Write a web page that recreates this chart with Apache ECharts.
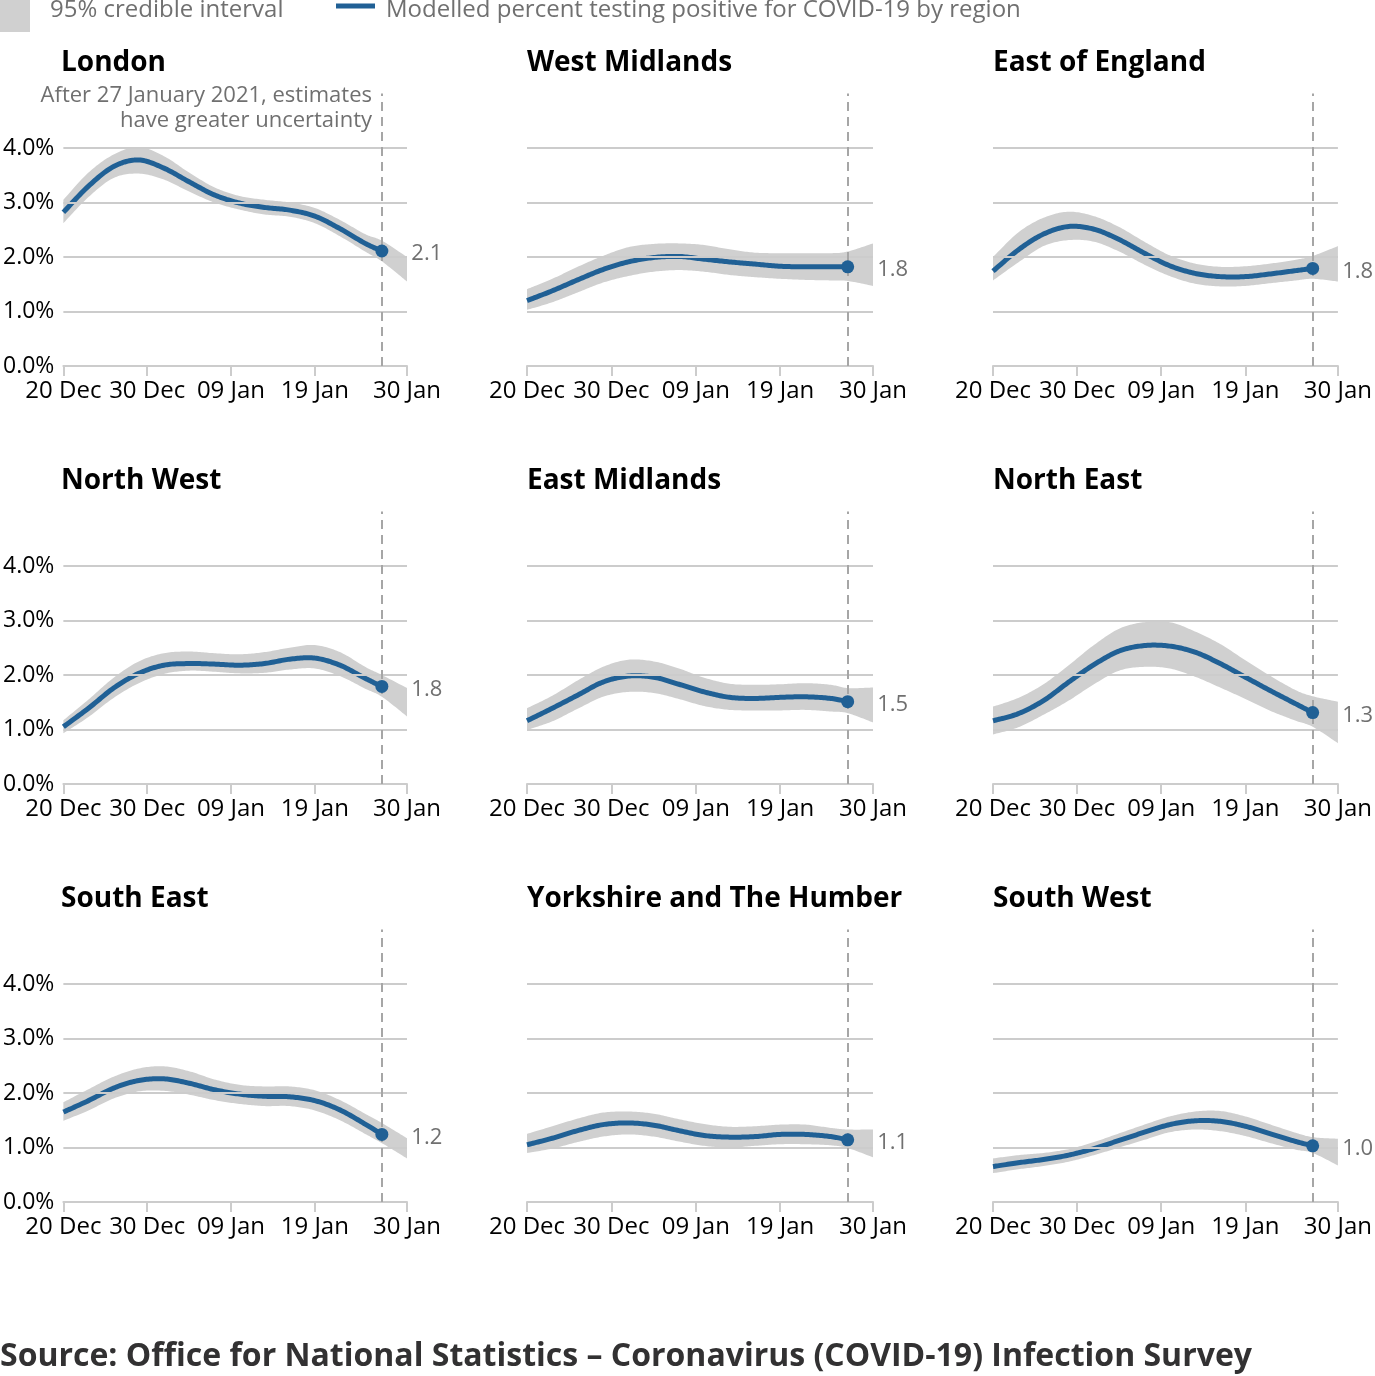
<!DOCTYPE html>
<html><head><meta charset="utf-8">
<script src="https://cdn.jsdelivr.net/npm/echarts@6/dist/echarts.min.js"></script>
<style>html,body{margin:0;padding:0;background:#fff}#chart{width:1375px;height:1376px}</style>
</head><body><div id="chart"></div>
<script>
// ---- data ----
const days = [0,3,6,9,12,15,18,21,24,27,30,33,36,38,41]; // days after 20 Dec 2020
const xTickDays = [0,10,20,30,41];
const xTickLabels = ['20 Dec','30 Dec','09 Jan','19 Jan','30 Jan'];
const yTicks = [0,1,2,3,4];
const cutoffDay = 38; // 27 January 2021
const regions = ['London','West Midlands','East of England','North West','East Midlands','North East','South East','Yorkshire and The Humber','South West'];

const londonMean  = [2.82,3.30,3.66,3.78,3.63,3.38,3.14,2.99,2.91,2.86,2.75,2.52,2.25,2.11];
const londonUpper = [3.05,3.55,3.88,4.02,3.85,3.55,3.28,3.12,3.05,3.00,2.90,2.68,2.42,2.30,2.00];
const londonLower = [2.62,3.10,3.45,3.53,3.42,3.20,3.00,2.87,2.78,2.74,2.62,2.38,2.10,1.92,1.55];

const westMidMean  = [1.20,1.38,1.58,1.77,1.91,1.99,2.01,1.96,1.91,1.87,1.83,1.82,1.82,1.82];
const westMidUpper = [1.41,1.60,1.82,2.02,2.18,2.24,2.25,2.22,2.14,2.08,2.07,2.07,2.07,2.10,2.25];
const westMidLower = [1.03,1.17,1.35,1.53,1.65,1.73,1.76,1.73,1.67,1.63,1.60,1.58,1.57,1.56,1.47];

const eastEngMean  = [1.74,2.13,2.42,2.56,2.51,2.32,2.07,1.84,1.70,1.64,1.64,1.69,1.75,1.79];
const eastEngUpper = [2.00,2.45,2.72,2.83,2.75,2.55,2.28,2.03,1.88,1.82,1.83,1.88,1.95,2.02,2.20];
const eastEngLower = [1.57,1.90,2.20,2.31,2.28,2.10,1.86,1.65,1.51,1.46,1.47,1.52,1.57,1.60,1.55];

const northWestMean  = [1.05,1.39,1.76,2.03,2.18,2.21,2.20,2.18,2.21,2.29,2.31,2.18,1.94,1.79];
const northWestUpper = [1.17,1.55,1.95,2.25,2.40,2.43,2.40,2.38,2.42,2.50,2.55,2.42,2.15,2.00,1.76];
const northWestLower = [0.93,1.23,1.58,1.85,2.02,2.08,2.06,2.03,2.04,2.10,2.12,1.98,1.75,1.60,1.24];

const eastMidMean  = [1.16,1.39,1.63,1.87,1.98,1.96,1.83,1.69,1.59,1.57,1.59,1.60,1.57,1.51];
const eastMidUpper = [1.39,1.62,1.90,2.15,2.28,2.25,2.12,1.95,1.84,1.82,1.83,1.85,1.82,1.76,1.77];
const eastMidLower = [0.99,1.15,1.38,1.60,1.69,1.67,1.56,1.43,1.36,1.35,1.35,1.36,1.33,1.30,1.13];

const northEastMean  = [1.16,1.29,1.53,1.87,2.19,2.44,2.54,2.53,2.42,2.21,1.96,1.71,1.47,1.31];
const northEastUpper = [1.42,1.58,1.83,2.18,2.55,2.85,2.97,2.97,2.80,2.57,2.27,1.98,1.72,1.61,1.51];
const northEastLower = [0.91,1.04,1.27,1.53,1.83,2.08,2.15,2.12,1.97,1.77,1.56,1.34,1.16,1.05,0.75];

const southEastMean  = [1.65,1.86,2.09,2.23,2.26,2.18,2.06,1.98,1.94,1.93,1.86,1.69,1.43,1.24];
const southEastUpper = [1.83,2.07,2.30,2.45,2.49,2.40,2.25,2.15,2.12,2.12,2.05,1.87,1.62,1.45,1.17];
const southEastLower = [1.49,1.68,1.90,2.03,2.04,1.97,1.87,1.80,1.76,1.76,1.68,1.50,1.25,1.08,0.80];

const yorkshireMean  = [1.05,1.17,1.31,1.42,1.45,1.41,1.31,1.22,1.19,1.20,1.24,1.24,1.20,1.14];
const yorkshireUpper = [1.25,1.39,1.53,1.64,1.66,1.62,1.52,1.43,1.38,1.39,1.42,1.42,1.36,1.33,1.33];
const yorkshireLower = [0.90,0.98,1.10,1.20,1.24,1.20,1.11,1.03,1.00,1.03,1.06,1.06,1.04,0.99,0.82];

const southWestMean  = [0.65,0.72,0.78,0.86,0.98,1.13,1.28,1.42,1.49,1.48,1.39,1.25,1.11,1.03];
const southWestUpper = [0.80,0.86,0.90,0.97,1.10,1.26,1.42,1.57,1.66,1.67,1.57,1.42,1.27,1.19,1.16];
const southWestLower = [0.53,0.60,0.66,0.74,0.86,1.00,1.14,1.28,1.33,1.30,1.21,1.08,0.96,0.90,0.67];

const means  = [londonMean, westMidMean, eastEngMean, northWestMean, eastMidMean, northEastMean, southEastMean, yorkshireMean, southWestMean];
const uppers = [londonUpper, westMidUpper, eastEngUpper, northWestUpper, eastMidUpper, northEastUpper, southEastUpper, yorkshireUpper, southWestUpper];
const lowers = [londonLower, westMidLower, eastEngLower, northWestLower, eastMidLower, northEastLower, southEastLower, yorkshireLower, southWestLower];

// ---- layout / style ----
const FONT = 'Open Sans';
const colLeft = [61, 527, 993];
const plotW = 346, plotH = 272.5;
const rowTop = [93.5, 511.5, 929.5];
const BLUE = '#206095', BAND = '#d0d0d0', GRID = '#cccccc', GREY_TXT = '#707070';

// Catmull-Rom sampling of pixel points (smooth outline through the data points)
function spline(P) {
  const out = [];
  const n = P.length;
  for (let i = 0; i < n - 1; i++) {
    const p0 = P[Math.max(i - 1, 0)], p1 = P[i], p2 = P[i + 1], p3 = P[Math.min(i + 2, n - 1)];
    const c1 = [p1[0] + (p2[0] - p0[0]) / 6, p1[1] + (p2[1] - p0[1]) / 6];
    const c2 = [p2[0] - (p3[0] - p1[0]) / 6, p2[1] - (p3[1] - p1[1]) / 6];
    const steps = 16;
    for (let s = 0; s < steps; s++) {
      const t = s / steps, u = 1 - t;
      out.push([
        u*u*u*p1[0] + 3*u*u*t*c1[0] + 3*u*t*t*c2[0] + t*t*t*p2[0],
        u*u*u*p1[1] + 3*u*u*t*c1[1] + 3*u*t*t*c2[1] + t*t*t*p2[1]
      ]);
    }
  }
  out.push(P[n - 1]);
  return out;
}

function bandRenderer(lo, up) {
  return function (params, api) {
    if (params.dataIndex !== 0) return null;
    const U = days.map((d, j) => api.coord([d, up[j]]));
    const L = days.map((d, j) => api.coord([d, lo[j]]));
    const pts = spline(U).concat(spline(L).reverse());
    return {type: 'polygon', shape: {points: pts}, style: {fill: BAND}, silent: true};
  };
}

function lineRenderer(mn) {
  return function (params, api) {
    if (params.dataIndex !== 0) return null;
    const P = mn.map((v, j) => api.coord([days[j], v]));
    return {type: 'polyline', shape: {points: spline(P)}, style: {stroke: BLUE, lineWidth: 5, fill: null, lineJoin: 'round'}, silent: true};
  };
}

const grid = [], xAxis = [], yAxis = [], series = [], title = [];
regions.forEach((name, i) => {
  const r = Math.floor(i / 3), c = i % 3;
  grid.push({left: colLeft[c], top: rowTop[r], width: plotW, height: plotH, containLabel: false});
  title.push({text: name, left: colLeft[c], top: rowTop[r] - 48, padding: 0,
    textStyle: {fontFamily: FONT, fontSize: 28, fontWeight: 'bold', color: '#000', lineHeight: 36}});
  xAxis.push({type: 'value', gridIndex: i, min: 0, max: 41,
    axisLine: {show: true, lineStyle: {color: GRID, width: 2}},
    axisTick: {show: true, length: 10, lineStyle: {color: GRID, width: 2}, customValues: xTickDays},
    axisLabel: {show: true, customValues: xTickDays, margin: 13, color: '#000', fontFamily: FONT, fontSize: 24,
      formatter: v => xTickLabels[xTickDays.indexOf(v)] || ''},
    splitLine: {show: false}});
  yAxis.push({type: 'value', gridIndex: i, min: 0, max: 5, interval: 1,
    axisLine: {show: false}, axisTick: {show: false}, splitLine: {show: false},
    axisLabel: {show: c === 0, customValues: yTicks, margin: 9, color: '#000', fontFamily: FONT, fontSize: 23,
      formatter: v => v.toFixed(1) + '%'}});
  const lo = lowers[i], up = uppers[i], mn = means[i];
  const meanData = mn.map((v, j) => [days[j], v]);
  const last = mn.length - 1;
  // horizontal gridlines (behind the band)
  series.push({type: 'line', xAxisIndex: i, yAxisIndex: i, symbol: 'none', silent: true, z: 1,
    lineStyle: {width: 0, opacity: 0}, data: meanData,
    markLine: {silent: true, symbol: ['none', 'none'], label: {show: false}, animation: false,
      lineStyle: {color: GRID, type: 'solid', width: 2},
      data: yTicks.slice(1).map(v => ({yAxis: v}))}});
  // 95% credible interval band
  series.push({type: 'custom', xAxisIndex: i, yAxisIndex: i, z: 2, silent: true,
    renderItem: bandRenderer(lo, up),
    encode: {x: 0, y: [1, 2]},
    data: days.map((d, j) => [d, lo[j], up[j]])});
  // dashed cutoff line
  series.push({type: 'line', xAxisIndex: i, yAxisIndex: i, symbol: 'none', silent: true, z: 3,
    lineStyle: {width: 0, opacity: 0}, data: meanData,
    markLine: {silent: true, symbol: ['none', 'none'], label: {show: false}, animation: false,
      lineStyle: {color: '#a6a6a6', type: [9, 6], width: 2},
      data: [{xAxis: cutoffDay}]}});
  // modelled estimate (smooth line)
  series.push({type: 'custom', xAxisIndex: i, yAxisIndex: i, z: 4, silent: true,
    renderItem: lineRenderer(mn),
    encode: {x: 0, y: 1},
    data: meanData});
  // latest estimate point + label
  series.push({type: 'line', xAxisIndex: i, yAxisIndex: i, z: 5, silent: true,
    symbol: 'circle', symbolSize: 13, showSymbol: true,
    lineStyle: {width: 0, opacity: 0}, itemStyle: {color: BLUE, borderWidth: 0},
    label: {show: true, position: 'right', distance: 23, offset: [0, 3], color: GREY_TXT, fontFamily: FONT, fontSize: 22,
      formatter: q => q.value[1].toFixed(1)},
    data: [meanData[last]]});
});

const chart = echarts.init(document.getElementById('chart'), null, {renderer: 'canvas'});
chart.setOption({
  animation: false,
  backgroundColor: '#fff',
  title, grid, xAxis, yAxis, series,
  graphic: [
    {type: 'rect', shape: {x: 0, y: 0, width: 30, height: 32}, style: {fill: BAND}, silent: true},
    {type: 'text', x: 50, y: 10, style: {text: '95% credible interval', fill: GREY_TXT, font: '24px "Open Sans"', textVerticalAlign: 'middle'}},
    {type: 'line', shape: {x1: 336, y1: 6, x2: 375, y2: 6}, style: {stroke: BLUE, lineWidth: 5}, silent: true},
    {type: 'text', x: 386, y: 10, style: {text: 'Modelled percent testing positive for COVID-19 by region', fill: GREY_TXT, font: '24px "Open Sans"', textVerticalAlign: 'middle'}},
    {type: 'text', x: 372, y: 96, style: {text: 'After 27 January 2021, estimates', fill: GREY_TXT, font: '22px "Open Sans"', textAlign: 'right', textVerticalAlign: 'middle'}},
    {type: 'text', x: 372, y: 121, style: {text: 'have greater uncertainty', fill: GREY_TXT, font: '22px "Open Sans"', textAlign: 'right', textVerticalAlign: 'middle'}},
    {type: 'text', x: 0, y: 1357, style: {text: 'Source: Office for National Statistics \u2013 Coronavirus (COVID-19) Infection Survey', fill: '#323132', font: 'bold 32px "Open Sans"', textVerticalAlign: 'middle'}}
  ]
});
</script>
</body></html>
